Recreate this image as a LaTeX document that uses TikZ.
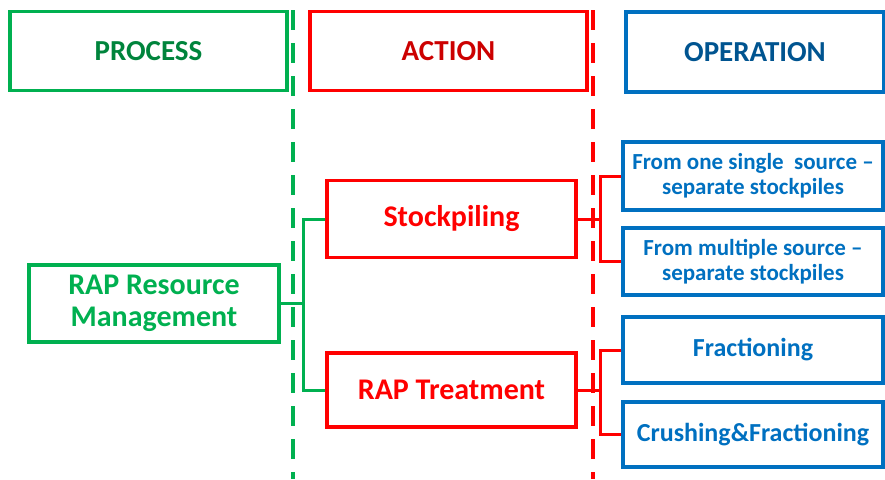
\documentclass[tikz,border=0pt]{standalone}
\usepackage{fontspec}
\setmainfont{Carlito}
\usepackage{xcolor}
\usepackage{tikz}

\definecolor{procgreen}{HTML}{00B050}
\definecolor{actred}{HTML}{FF0000}
\definecolor{opblue}{HTML}{0070C0}

\tikzset{
  headbox/.style={draw, rectangle, line width=3.5pt, minimum height=79pt, inner sep=0pt,
    font=\fontsize{29}{32}\selectfont\bfseries},
  itembox/.style={draw, rectangle, line width=3.5pt, inner sep=0pt, align=center},
  bigtext/.style={font=\fontsize{30}{32}\selectfont\bfseries},
  optext/.style={font=\fontsize{23}{25}\selectfont\bfseries},
  onelinetext/.style={font=\fontsize{26}{28}\selectfont\bfseries},
  divider/.style={line width=4pt, dash pattern=on 20pt off 13pt},
  link/.style={line width=3pt}
}

\begin{document}
\begin{tikzpicture}[x=1pt, y=-1pt]
    \useasboundingbox (0,0) rectangle (885,479);

    % Column headers
    \node[headbox, minimum width=277pt, color=procgreen, text=procgreen!75!black] (process) at (148.5,51) {PROCESS};
    \node[headbox, minimum width=277pt, color=actred, text=actred!80!black] (action) at (448.5,51) {ACTION};
    \node[headbox, minimum width=258pt, minimum height=80pt, color=opblue, text=opblue!75!black] (operation) at (755,52) {OPERATION};

    % Dividers
    \draw[divider, procgreen] (293,10) -- (293,479);
    \draw[divider, actred] (593,10) -- (593,479);

    % Process
    \node[itembox, bigtext, minimum width=250pt, minimum height=77pt, color=procgreen] (ram) at (154,303.5) {RAP Resource\\Management};

    % Actions
    \node[itembox, bigtext, minimum width=249pt, minimum height=77pt, color=actred] (stock) at (451.5,219) {Stockpiling};
    \node[itembox, bigtext, minimum width=249pt, minimum height=74pt, color=actred] (treat) at (451.5,390) {RAP Treatment};

    % Operations
    \node[itembox, optext, minimum width=260pt, minimum height=68pt, color=opblue] (single) at (753,176) {From one single\ \ source --\\separate stockpiles};
    \node[itembox, optext, minimum width=260pt, minimum height=67pt, color=opblue] (multi) at (753,261.5) {From multiple source --\\separate stockpiles};
    \node[itembox, onelinetext, minimum width=260pt, minimum height=66pt, color=opblue] (frac) at (753,350) {Fractioning};
    \node[itembox, onelinetext, minimum width=260pt, minimum height=65pt, color=opblue] (crush) at (753,434.5) {Crushing\&Fractioning};

    % Connectors
    \coordinate (ja) at (303,303.5);
    \coordinate (jb) at (600,219);
    \coordinate (jc) at (600,390);
    \draw[link, procgreen] (ram.east) -- (ja);
    \draw[link, procgreen] (stock.west) -| (ja) |- (treat.west);
    \draw[link, actred] (stock.east) -- (jb);
    \draw[link, actred] (single.west) -| (jb) |- (multi.west);
    \draw[link, actred] (treat.east) -- (jc);
    \draw[link, actred] (frac.west) -| (jc) |- (crush.west);
\end{tikzpicture}
\end{document}
